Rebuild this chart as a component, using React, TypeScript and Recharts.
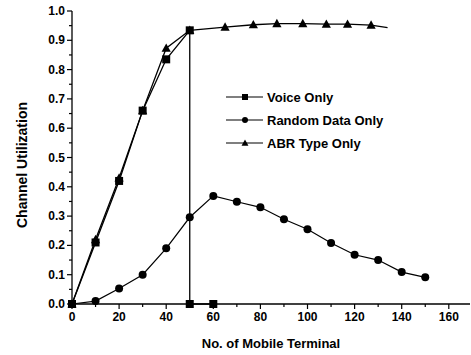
import React from 'react';
import { LineChart, Line, XAxis, YAxis } from 'recharts';

const voiceX = [0, 10, 20, 30, 40, 50, 50, 60];
const voiceY = [0, 0.21, 0.42, 0.66, 0.835, 0.934, 0, 0];
const randomX = [0, 10, 20, 30, 40, 50, 60, 70, 80, 90, 100, 110, 120, 130, 140, 150];
const randomY = [0, 0.01, 0.053, 0.1, 0.19, 0.296, 0.369, 0.349, 0.33, 0.289, 0.255, 0.208, 0.168, 0.15, 0.109, 0.091];
const abrX = [0, 10, 20, 30, 40, 50, 65, 77, 87, 98, 108, 117, 127, 134];
const abrY = [0, 0.22, 0.43, 0.66, 0.873, 0.934, 0.945, 0.953, 0.957, 0.957, 0.955, 0.955, 0.952, 0.943];
const xTicks = [0, 10, 20, 30, 40, 50, 60, 70, 80, 90, 100, 110, 120, 130, 140, 150, 160];
const yTicks = [0, 0.05, 0.1, 0.15, 0.2, 0.25, 0.3, 0.35, 0.4, 0.45, 0.5, 0.55, 0.6, 0.65, 0.7, 0.75, 0.8, 0.85, 0.9, 0.95, 1.0];
const seriesNames = ['Voice Only', 'Random Data Only', 'ABR Type Only'];
const xTitle = 'No. of Mobile Terminal';
const yTitle = 'Channel Utilization';

const FONT = '"Liberation Sans Narrow", "Arial Narrow", "Liberation Sans", Arial, sans-serif';
const TITLE_FONT = '"Liberation Sans", Arial, sans-serif';

const toPts = (xs: number[], ys: number[]) => xs.map((x, i) => ({ x, y: ys[i] }));
const voiceData = toPts(voiceX, voiceY);
const randomData = toPts(randomX, randomY);
const abrData = toPts(abrX, abrY);

type Shape = 'square' | 'circle' | 'triangle';
const shapes: Shape[] = ['square', 'circle', 'triangle'];

const marker = (shape: Shape, cx: number, cy: number, s: number, key?: any) => {
  if (shape === 'square') return <rect key={key} x={cx - s} y={cy - s} width={2 * s} height={2 * s} fill="#000" />;
  if (shape === 'circle') return <circle key={key} cx={cx} cy={cy} r={s} fill="#000" />;
  return (
    <polygon
      key={key}
      points={`${cx},${cy - s * 1.2} ${cx - s * 1.15},${cy + s * 0.9} ${cx + s * 1.15},${cy + s * 0.9}`}
      fill="#000"
    />
  );
};

const makeDot = (shape: Shape, size: number, skipLast?: number) => (props: any) => {
  const { cx, cy, index } = props;
  if (skipLast !== undefined && index >= skipLast) return <g key={`d${index}`} />;
  return marker(shape, cx, cy, size, `d${index}`);
};

const XTick = (props: any) => {
  const { x, y, payload } = props;
  const v = payload.value;
  const major = v % 20 === 0;
  return (
    <g>
      <line x1={x} x2={x} y1={y} y2={y + (major ? 5 : 3)} stroke="#000" strokeWidth={1.2} />
      {major && (
        <text x={x} y={y + 17} textAnchor="middle" fontFamily={FONT} fontWeight="bold" fontSize={12} fill="#000">
          {v}
        </text>
      )}
    </g>
  );
};

const YTick = (props: any) => {
  const { x, y, payload } = props;
  const v = payload.value;
  const major = Math.round(v * 100) % 10 === 0;
  return (
    <g>
      <line x1={x - (major ? 5 : 3)} x2={x} y1={y} y2={y} stroke="#000" strokeWidth={1.2} />
      {major && (
        <text x={x - 7} y={y + 4} textAnchor="end" fontFamily={FONT} fontWeight="bold" fontSize={12} fill="#000">
          {v.toFixed(1)}
        </text>
      )}
    </g>
  );
};

const rowsY = [97, 120, 143];

export default function App() {
  return (
    <div style={{ position: 'absolute', left: 0, top: 0, width: 471, height: 355, background: '#fff' }}>
      <LineChart width={471} height={355} margin={{ top: 11, right: 1, left: 0, bottom: 0 }}>
        <XAxis
          type="number"
          dataKey="x"
          domain={[0, 169]}
          ticks={xTicks}
          interval={0}
          tickSize={0}
          tickMargin={0}
          tickLine={false}
          tick={<XTick />}
          height={51}
          axisLine={{ stroke: '#000', strokeWidth: 1.3 }}
          allowDuplicatedCategory={true}
        />
        <YAxis
          type="number"
          dataKey="y"
          domain={[0, 1]}
          ticks={yTicks}
          interval={0}
          tickSize={0}
          tickMargin={0}
          tickLine={false}
          tick={<YTick />}
          width={72}
          axisLine={{ stroke: '#000', strokeWidth: 1.3 }}
        />
        <Line
          data={voiceData}
          dataKey="y"
          name={seriesNames[0]}
          stroke="#000"
          strokeWidth={1.3}
          dot={makeDot('square', 4)}
          isAnimationActive={false}
        />
        <Line
          data={randomData}
          dataKey="y"
          name={seriesNames[1]}
          stroke="#000"
          strokeWidth={1.2}
          dot={makeDot('circle', 4)}
          isAnimationActive={false}
        />
        <Line
          data={abrData}
          dataKey="y"
          name={seriesNames[2]}
          stroke="#000"
          strokeWidth={1.3}
          dot={makeDot('triangle', 4, abrData.length - 1)}
          isAnimationActive={false}
        />
        <g className="legend">
          {seriesNames.map((name, i) => {
            const cy = rowsY[i];
            return (
              <g key={name}>
                <line x1={226} x2={263} y1={cy} y2={cy} stroke="#000" strokeWidth={1.2} />
                {marker(shapes[i], 245, cy, 3)}
                <text x={267} y={cy + 5} fontFamily={TITLE_FONT} fontWeight="bold" fontSize={13} fill="#000">
                  {name}
                </text>
              </g>
            );
          })}
        </g>
        <text
          x={22}
          y={165}
          transform="rotate(-90 22 165)"
          textAnchor="middle"
          dominantBaseline="central"
          fontFamily={TITLE_FONT}
          fontWeight="bold"
          fontSize={14}
          fill="#000"
        >
          {yTitle}
        </text>
        <text x={271} y={348} textAnchor="middle" fontFamily={TITLE_FONT} fontWeight="bold" fontSize={13} fill="#000">
          {xTitle}
        </text>
      </LineChart>
    </div>
  );
}
